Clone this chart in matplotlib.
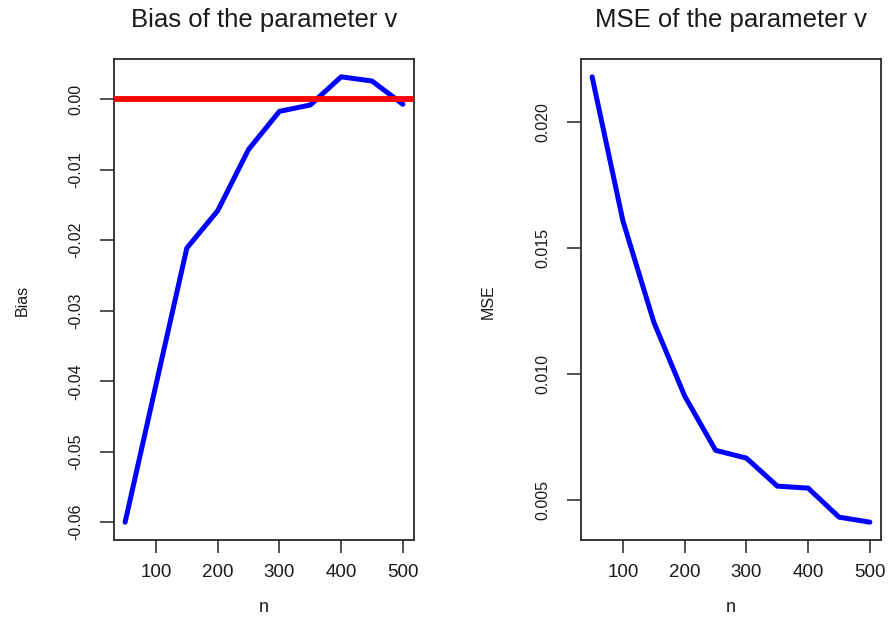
import matplotlib
matplotlib.use("Agg")
import matplotlib.pyplot as plt

plt.rcParams["font.family"] = ["Liberation Sans", "DejaVu Sans"]
plt.rcParams["axes.unicode_minus"] = False

# Sample sizes and simulation results for parameter v
n = [50, 100, 150, 200, 250, 300, 350, 400, 450, 500]
bias = [-0.0600, -0.0405, -0.0211, -0.0158, -0.0071, -0.0017, -0.0008, 0.0032, 0.0026, -0.0007]
mse = [0.02179, 0.01607, 0.01206, 0.00913, 0.00698, 0.00667, 0.00556, 0.00548, 0.00433, 0.00413]

bias_ticks = [0.00, -0.01, -0.02, -0.03, -0.04, -0.05, -0.06]
bias_labels = ["0.00", "-0.01", "-0.02", "-0.03", "-0.04", "-0.05", "-0.06"]
mse_ticks = [0.005, 0.010, 0.015, 0.020]
mse_labels = ["0.005", "0.010", "0.015", "0.020"]
n_ticks = [100, 200, 300, 400, 500]

W, H = 888, 621
fig = plt.figure(figsize=(W / 100, H / 100), dpi=100)

def axes_px(x0, y0, x1, y1):
    return fig.add_axes([x0 / W, 1 - y1 / H, (x1 - x0) / W, (y1 - y0) / H])

def r_range(vals):
    lo, hi = min(vals), max(vals)
    pad = (hi - lo) * 0.04
    return lo - pad, hi + pad

def style(ax, yticks, ylabels):
    ax.set_xlim(*r_range(n))
    ax.set_xticks(n_ticks)
    ax.set_xticklabels([str(t) for t in n_ticks], fontsize=13.5, color="#1a1a1a")
    ax.set_yticks(yticks)
    ax.set_yticklabels(ylabels, fontsize=11.5, rotation=90, va="center", color="#1a1a1a")
    ax.tick_params(axis="x", length=9, width=1.2, pad=8, color="#333333")
    ax.tick_params(axis="y", length=10, width=1.2, pad=12, color="#333333")
    for s in ax.spines.values():
        s.set_linewidth(1.3)
        s.set_color("#2a2a2a")

BLUE = "#0000ff"

# Bias panel
ax1 = axes_px(114, 59, 414, 540)
ax1.plot(n, bias, color=BLUE, lw=3.6, solid_capstyle="round", solid_joinstyle="round", zorder=2)
ax1.axhline(0, color="#ff0000", lw=4.2, zorder=3)
ax1.set_ylim(*r_range(bias))
style(ax1, bias_ticks, bias_labels)

# MSE panel
ax2 = axes_px(581, 59, 881, 540)
ax2.plot(n, mse, color=BLUE, lw=3.6, solid_capstyle="round", solid_joinstyle="round")
ax2.set_ylim(*r_range(mse))
style(ax2, mse_ticks, mse_labels)

def ftext(x, y, s, **kw):
    fig.text(x / W, 1 - y / H, s, ha="center", va="center", color="#1a1a1a", **kw)

ftext(264, 20, "Bias of the parameter v", fontsize=18.5)
ftext(731, 20, "MSE of the parameter v", fontsize=18.5)
ftext(264, 607, "n", fontsize=13)
ftext(731, 607, "n", fontsize=13)
ftext(22, 300, "Bias", fontsize=11.5, rotation=90)
ftext(488, 302, "MSE", fontsize=11.5, rotation=90)

fig.savefig("out.png", dpi=100)
